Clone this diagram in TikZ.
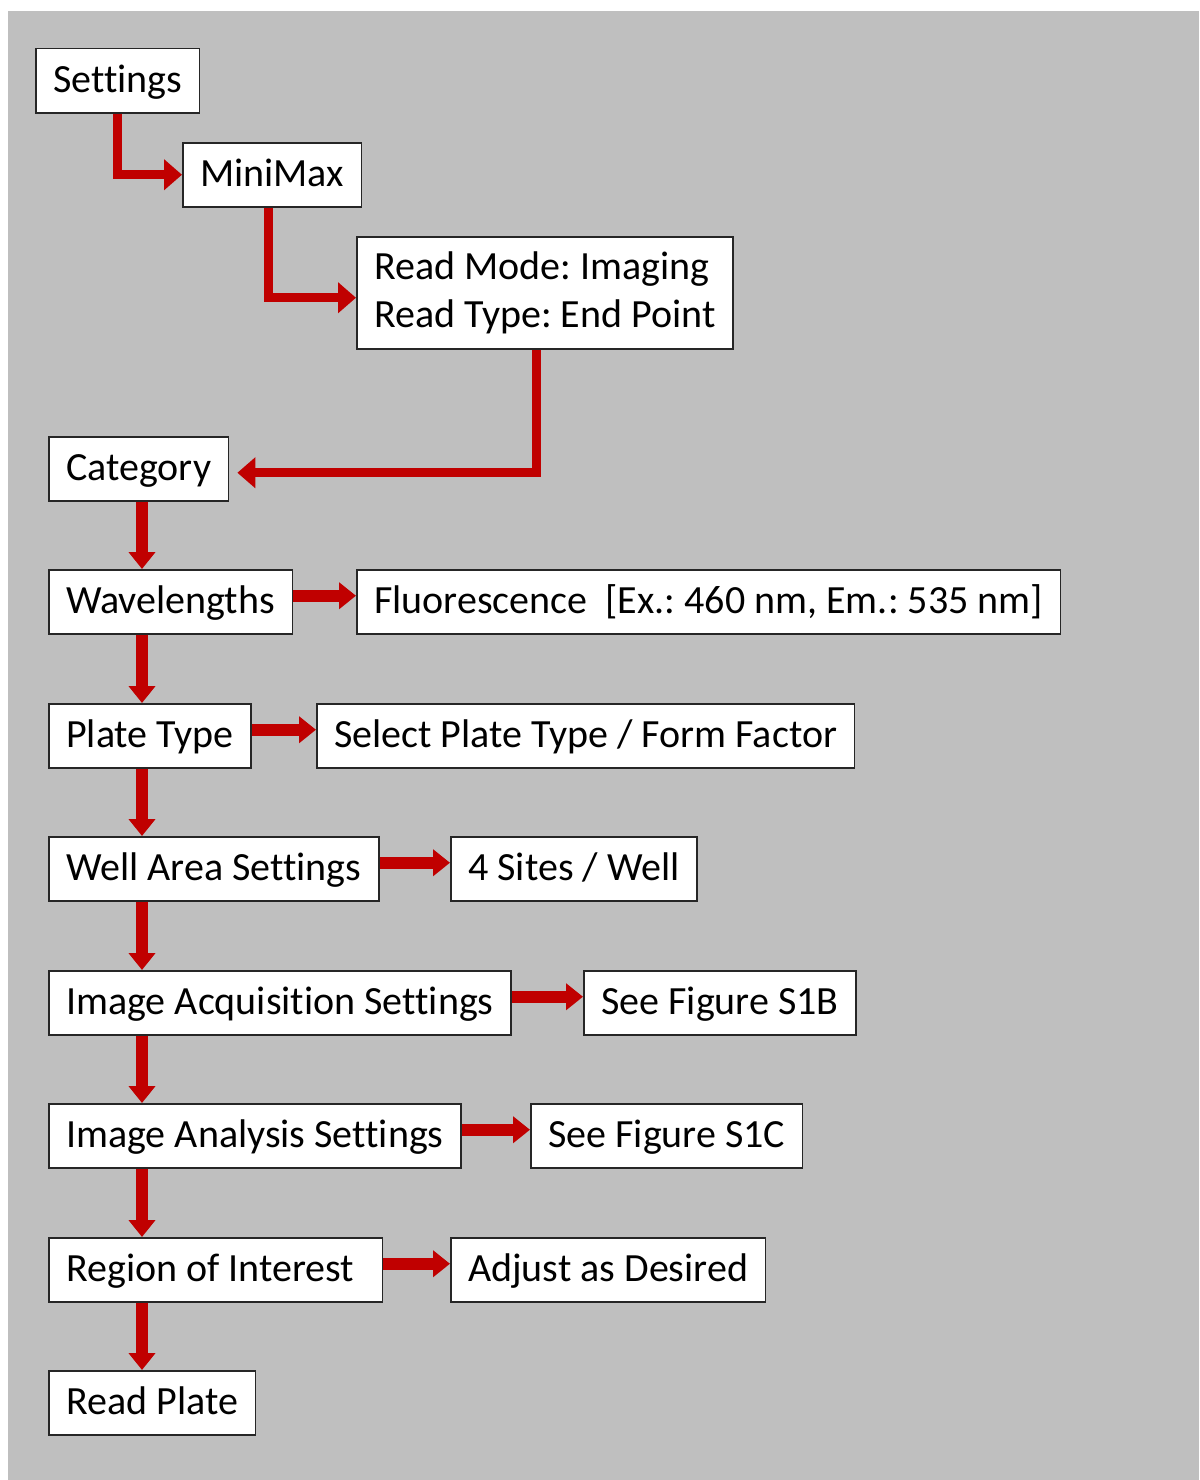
\documentclass[tikz,border=0pt]{standalone}
\usepackage{fontspec}
\setmainfont{Carlito}[Ligatures=NoCommon]
\usetikzlibrary{positioning, arrows.meta}
\usepackage{xcolor}
\definecolor{panelgray}{HTML}{BFBFBF}
\definecolor{arrowred}{HTML}{C00000}
\frenchspacing

\begin{document}
\begin{tikzpicture}[x=1pt, y=-1pt,
    box/.style={draw=black!85, fill=white, line width=1.5pt, anchor=north west,
                inner xsep=17.5pt, font=\fontsize{40}{48}\selectfont},
    oneline/.style={box, minimum height=64pt, inner ysep=0pt,
                text height=30pt, text depth=6pt},
    flow/.style={draw=arrowred, line width=12pt, -{Triangle[length=17pt,width=26pt]}},
    elbow/.style={draw=arrowred, line width=9pt, -{Triangle[length=18pt,width=30pt]}}]

        \useasboundingbox (0,0) rectangle (1199,1480);
        \fill[panelgray] (8,11) rectangle (1199,1480);

        % Nodes
        \node[oneline] (set) at (35,48) {Settings};
        \node[oneline] (mini) at (182,142) {MiniMax};
        \node[box, align=left, minimum height=112pt] (read) at (356,236)
            {Read Mode: Imaging\\Read Type: End Point};
        \node[oneline] (cat) at (48,436) {Category};
        \node[oneline] (wave) at (48,569) {Wavelengths};
        \node[oneline] (fluo) at (356,569) {Fluorescence\ \ [Ex.: 460 nm, Em.: 535 nm]};
        \node[oneline] (plate) at (48,703) {Plate Type};
        \node[oneline] (form) at (316,703) {Select Plate Type / Form Factor};
        \node[oneline] (well) at (48,836) {Well Area Settings};
        \node[oneline] (sites) at (450,836) {4 Sites / Well};
        \node[oneline] (acq) at (48,970) {Image Acquisition Settings};
        \node[oneline] (s1b) at (583,970) {See Figure S1B};
        \node[oneline] (ana) at (48,1103) {Image Analysis Settings};
        \node[oneline] (s1c) at (530,1103) {See Figure S1C};
        \node[oneline] (roi) at (48,1237) {Region of Interest\kern11pt};
        \node[oneline] (adjust) at (450,1237) {Adjust as Desired};
        \node[oneline] (readp) at (48,1370) {Read Plate};
        \coordinate (spine) at (142,0);

        % Edges
        \draw[elbow] (set.south) |- (mini.west);
        \draw[elbow] ([xshift=-4pt]mini.south) |- ([yshift=-5pt]read.west);
        \draw[elbow] ([xshift=-8pt]read.south) |- ([xshift=8pt,yshift=-4pt]cat.east);

        \draw[flow] (cat.south -| spine) -- (wave.north -| spine);
        \draw[flow] (wave.south -| spine) -- (plate.north -| spine);
        \draw[flow] (plate.south -| spine) -- (well.north -| spine);
        \draw[flow] (well.south -| spine) -- (acq.north -| spine);
        \draw[flow] (acq.south -| spine) -- (ana.north -| spine);
        \draw[flow] (ana.south -| spine) -- (roi.north -| spine);
        \draw[flow] (roi.south -| spine) -- (readp.north -| spine);

        \draw[flow] ([yshift=6pt]wave.east) -- ([yshift=6pt]fluo.west);
        \draw[flow] ([yshift=6pt]plate.east) -- ([yshift=6pt]form.west);
        \draw[flow] ([yshift=6pt]well.east) -- ([yshift=6pt]sites.west);
        \draw[flow] ([yshift=6pt]acq.east) -- ([yshift=6pt]s1b.west);
        \draw[flow] ([yshift=6pt]ana.east) -- ([yshift=6pt]s1c.west);
        \draw[flow] ([yshift=6pt]roi.east) -- ([yshift=6pt]adjust.west);

\end{tikzpicture}
\end{document}
